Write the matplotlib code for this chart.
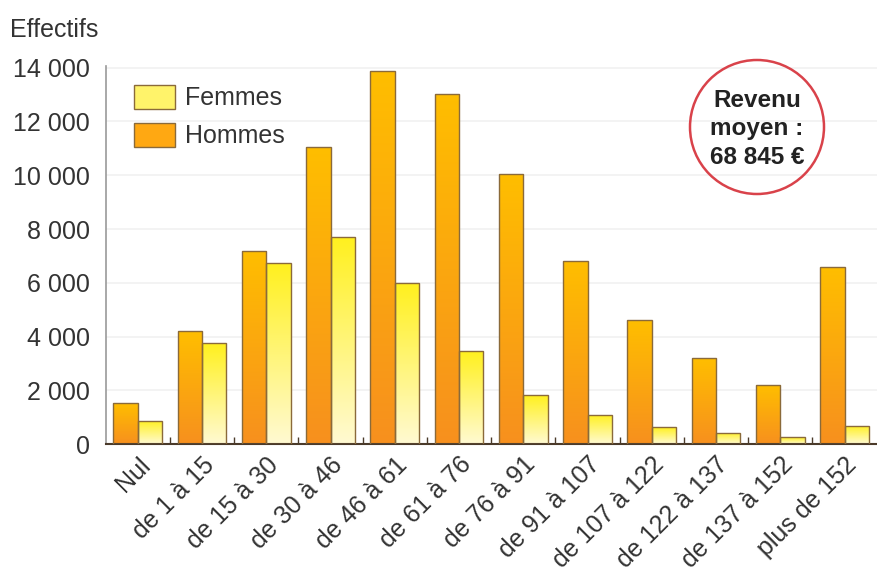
import numpy as np
import matplotlib
matplotlib.use("Agg")
import matplotlib.pyplot as plt
from matplotlib.colors import LinearSegmentedColormap
from matplotlib.patches import Patch, Ellipse
from matplotlib.ticker import FuncFormatter, FixedLocator

categories = ["Nul", "de 1 à 15", "de 15 à 30", "de 30 à 46", "de 46 à 61",
              "de 61 à 76", "de 76 à 91", "de 91 à 107", "de 107 à 122",
              "de 122 à 137", "de 137 à 152", "plus de 152"]
hommes = [1520, 4200, 7200, 11030, 13890, 13030, 10060, 6800, 4600, 3190, 2190, 6570]
femmes = [880, 3750, 6720, 7720, 5980, 3450, 1820, 1080, 630, 410, 260, 670]

plt.rcParams['font.family'] = ['Liberation Sans', 'DejaVu Sans']
FS = 18

fig = plt.figure(figsize=(8.78, 5.71), dpi=100)
ax = fig.add_axes([0.121, 0.222, 0.879, 0.662])

cm_h = LinearSegmentedColormap.from_list("h", ["#F7901E", "#FFBE00"])
cm_f = LinearSegmentedColormap.from_list("f", ["#FFFAD2", "#FFF01E"])
grad = np.linspace(0, 1, 256).reshape(-1, 1)

x = np.arange(len(categories))
w = 0.38
edge = "#8a6a3a"


def gradient_bars(xpos, vals, cmap):
    bars = ax.bar(xpos, vals, width=w, color="none", edgecolor=edge, linewidth=1.0, zorder=3)
    for b in bars:
        x0, y0 = b.get_x(), b.get_y()
        im = ax.imshow(grad, cmap=cmap, origin="lower", aspect="auto",
                       extent=[x0, x0 + b.get_width(), y0, y0 + b.get_height()], zorder=2)
        im.set_clip_path(b)
    return bars


gradient_bars(x - w / 2, hommes, cm_h)
gradient_bars(x + w / 2, femmes, cm_f)

ax.set_xlim(-0.49, len(categories) - 0.48)
ax.set_ylim(0, 14050)

# axes look
for s in ["top", "right"]:
    ax.spines[s].set_visible(False)
ax.spines["left"].set_color("#999999")
ax.spines["left"].set_linewidth(1.2)
ax.spines["bottom"].set_color("#4a3a2a")
ax.spines["bottom"].set_linewidth(1.5)

ax.set_yticks(range(0, 14001, 2000))
ax.yaxis.set_major_formatter(FuncFormatter(lambda v, p: f"{int(v):,}".replace(",", " ")))
ax.tick_params(axis="y", length=0, pad=12, labelsize=FS, labelcolor="#333333")
ax.grid(axis="y", color="#f1f1f1", linewidth=1.2, zorder=0)

ax.set_xticks(x)
ax.set_xticklabels(categories, rotation=45, ha="right", va="top",
                   rotation_mode="anchor", fontsize=FS, color="#333333")
ax.tick_params(axis="x", which="major", length=0, pad=6)
ax.xaxis.set_minor_locator(FixedLocator(x[:-1] + 0.5))
ax.tick_params(axis="x", which="minor", direction="in", length=5, color="#4a3a2a", width=1)

fig.text(0.011, 0.935, "Effectifs", fontsize=FS, color="#333333")

handles = [Patch(facecolor="#FFF36A", edgecolor=edge, label="Femmes"),
           Patch(facecolor="#FFA812", edgecolor=edge, label="Hommes")]
ax.legend(handles=handles, loc="upper left", bbox_to_anchor=(0.007, 1.01), frameon=False,
          fontsize=FS, handlelength=1.64, handleheight=1.1, handletextpad=0.4,
          labelspacing=0.5, labelcolor="#333333")

# circle annotation
circ = Ellipse((757, 571 - 127), 134, 134, transform=None, fill=False,
               edgecolor="#d9424a", linewidth=1.8, zorder=5)
fig.patches.append(circ)
fig.text(757 / 878, 1 - 129 / 571, "Revenu\nmoyen :\n68 845 €", ha="center", va="center",
         fontsize=17.5, fontweight="bold", color="#222222", linespacing=1.32)

fig.savefig("out.png", dpi=100)
